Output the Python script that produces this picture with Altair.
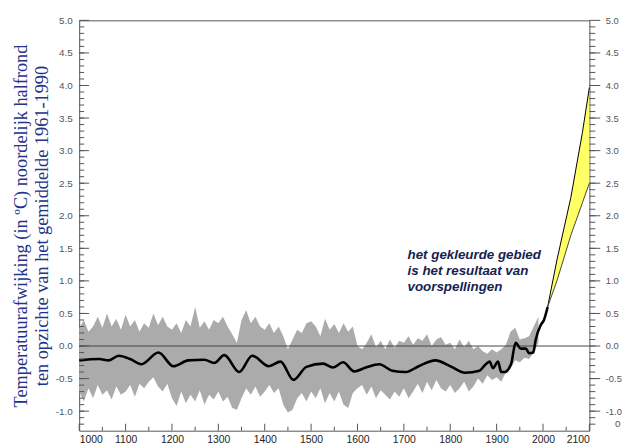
import altair as alt
import pandas as pd

# ---------------- data ----------------
band_years = list(range(1000, 2000, 10))
band_upper = [
    0.27, 0.40, 0.22, 0.30, 0.45, 0.28, 0.50, 0.30, 0.42, 0.25,
    0.48, 0.30, 0.40, 0.22, 0.35, 0.28, 0.50, 0.32, 0.45, 0.30,
    0.25, 0.35, 0.20, 0.40, 0.30, 0.60, 0.28, 0.38, 0.25, 0.40,
    0.35, 0.45, 0.30, 0.18, 0.05, 0.40, 0.55, 0.35, 0.45, 0.30,
    0.25, 0.35, 0.20, 0.30, 0.15, -0.05, 0.10, 0.25, 0.20, 0.35,
    0.38, 0.30, 0.15, 0.42, 0.25, 0.34, 0.20, 0.35, 0.22, 0.30,
    0.00, -0.05, 0.05, 0.18, -0.02, 0.08, -0.05, 0.10, -0.03, 0.08,
    0.05, 0.15, 0.02, 0.12, 0.08, 0.18, 0.00, 0.10, 0.14, 0.02,
    0.05, -0.05, 0.10, -0.02, 0.08, -0.05, 0.00, -0.08, -0.12, -0.05,
    -0.10, -0.05, 0.02, 0.22, 0.28, 0.10, 0.12, 0.15, 0.30, 0.45,
]
band_lower = [
    -0.70, -0.85, -0.65, -0.80, -0.60, -0.75, -0.68, -0.82, -0.62, -0.75,
    -0.70, -0.60, -0.78, -0.58, -0.65, -0.55, -0.48, -0.62, -0.70, -0.58,
    -0.80, -0.92, -0.70, -0.88, -0.75, -0.85, -0.68, -0.90, -0.75, -0.82,
    -0.70, -0.85, -0.78, -0.95, -0.98, -0.80, -0.65, -0.75, -0.62, -0.78,
    -0.70, -0.60, -0.72, -0.65, -0.90, -1.02, -0.98, -0.80, -0.72, -0.85,
    -0.70, -0.80, -0.65, -0.88, -0.72, -0.85, -0.70, -0.90, -0.95, -0.72,
    -0.65, -0.60, -0.75, -0.62, -0.80, -0.68, -0.75, -0.82, -0.70, -0.78,
    -0.65, -0.80, -0.70, -0.58, -0.72, -0.55, -0.68, -0.52, -0.65, -0.70,
    -0.60, -0.72, -0.65, -0.55, -0.70, -0.62, -0.50, -0.58, -0.45, -0.52,
    -0.48, -0.55, -0.40, -0.35, -0.22, -0.25, -0.18, -0.20, -0.10, 0.05,
]

smooth_years = [1000, 1043, 1064, 1085, 1110, 1134, 1171, 1203, 1235, 1270,
                1291, 1313, 1345, 1373, 1409, 1434, 1462, 1490, 1526, 1547,
                1569, 1593, 1618, 1647, 1675, 1704, 1732, 1768, 1803, 1832,
                1863, 1874, 1885, 1892, 1903, 1910, 1917, 1931, 1941, 1952,
                1963, 1970, 1979, 1984, 1995, 2002, 2010]
smooth_values = [-0.22, -0.20, -0.22, -0.15, -0.20, -0.28, -0.10, -0.31, -0.22, -0.21,
                 -0.26, -0.14, -0.40, -0.15, -0.31, -0.24, -0.52, -0.32, -0.27, -0.33,
                 -0.25, -0.39, -0.33, -0.28, -0.38, -0.40, -0.31, -0.22, -0.32, -0.41,
                 -0.38, -0.30, -0.24, -0.34, -0.24, -0.40, -0.40, -0.28, 0.05, -0.04,
                 -0.04, -0.11, -0.10, 0.09, 0.32, 0.40, 0.60]

proj_years = [2010, 2030, 2060, 2085, 2100]
proj_upper = [0.60, 1.32, 2.28, 3.28, 3.97]
proj_lower = [0.60, 1.00, 1.70, 2.20, 2.50]

y_major = [-1.0, -0.5, 0.0, 0.5, 1.0, 1.5, 2.0, 2.5, 3.0, 3.5, 4.0, 4.5, 5.0]
y_minor = [round(-1.2 + 0.1 * i, 1) for i in range(62)]
x_major = list(range(1000, 2101, 100))
x_minor = list(range(1050, 2100, 100))

title_lines = ["Temperatuurafwijking (in ºC) noordelijk halfrond",
               "ten opzichte van het gemiddelde 1961-1990"]
note_lines = ["het gekleurde gebied", "is het resultaat van", "voorspellingen"]

# ---------------- chart ----------------
W, H = 516, 415
xs = alt.Scale(domain=[1000, 2100], nice=False, zero=False)
ys = alt.Scale(domain=[-1.3, 5.0], nice=False, zero=False)
label_expr = "datum.value < 0 ? '-' + format(-datum.value, '.1f') : format(datum.value, '.1f')"

band_df = pd.DataFrame({"year": band_years, "lo": band_lower, "hi": band_upper})
smooth_df = pd.DataFrame({"year": smooth_years, "v": smooth_values})
proj_df = pd.DataFrame({"year": proj_years, "lo": proj_lower, "hi": proj_upper})

band = alt.Chart(band_df).mark_area(color="#ababab", opacity=1).encode(
    x=alt.X("year:Q", scale=xs, axis=alt.Axis(
        values=x_major, format="d", ticks=False, domain=False, grid=False,
        labelPadding=4, labelFont="Liberation Sans", labelFontSize=10.5,
        labelColor="#222", title=None)),
    y=alt.Y("lo:Q", scale=ys, axis=alt.Axis(
        values=y_major, labelExpr=label_expr, ticks=False, domain=False, grid=False,
        labelPadding=7, labelFont="Liberation Sans", labelFontSize=10,
        labelColor="#555", title=title_lines, titleFont="Liberation Serif",
        titleFontSize=18.5, titleFontWeight="normal", titleColor="#22338a",
        titleLineHeight=21, titlePadding=4)),
    y2="hi:Q",
)

right_axis = alt.Chart(pd.DataFrame({"v": [0.0]})).mark_rule(color="#444", strokeWidth=1).encode(
    y=alt.Y("v:Q", scale=ys, axis=alt.Axis(
        orient="right", values=y_major, labelExpr=label_expr, ticks=False,
        domain=False, grid=False, labelPadding=16, labelFont="Liberation Sans",
        labelFontSize=9.5, labelColor="#555", title=None)),
    x=alt.value(0), x2=alt.value(W),
)

smooth = alt.Chart(smooth_df).mark_line(color="black", strokeWidth=2.6, interpolate="monotone").encode(
    x=alt.X("year:Q", scale=xs, axis=None),
    y=alt.Y("v:Q", scale=ys, axis=None),
)

proj_area = alt.Chart(proj_df).mark_area(color="#ffff66", opacity=1).encode(
    x=alt.X("year:Q", scale=xs, axis=None),
    y=alt.Y("lo:Q", scale=ys, axis=None),
    y2="hi:Q",
)
proj_hi = alt.Chart(proj_df).mark_line(color="black", strokeWidth=1).encode(
    x=alt.X("year:Q", scale=xs, axis=None),
    y=alt.Y("hi:Q", scale=ys, axis=None),
)
proj_lo = alt.Chart(proj_df).mark_line(color="#444", strokeWidth=1).encode(
    x=alt.X("year:Q", scale=xs, axis=None),
    y=alt.Y("lo:Q", scale=ys, axis=None),
)

def yticks(values, x0, x1):
    return alt.Chart(pd.DataFrame({"v": values})).mark_rule(color="#555", strokeWidth=1).encode(
        y=alt.Y("v:Q", scale=ys, axis=None), x=alt.value(x0), x2=alt.value(x1))

def xticks(values, length):
    return alt.Chart(pd.DataFrame({"t": values})).mark_rule(color="#555", strokeWidth=1).encode(
        x=alt.X("t:Q", scale=xs, axis=None), y=alt.value(H), y2=alt.value(H - length))

note = alt.Chart(pd.DataFrame({"year": [1708], "v": [1.5]})).mark_text(
    align="left", baseline="top", font="Liberation Sans", fontStyle="italic",
    fontWeight="bold", fontSize=13.5, lineHeight=16, color="#15224f", text=note_lines,
).encode(x=alt.X("year:Q", scale=xs, axis=None), y=alt.Y("v:Q", scale=ys, axis=None))

stray = alt.Chart(pd.DataFrame({"s": ["0"]})).mark_text(
    align="left", baseline="middle", font="Liberation Sans", fontSize=10, color="#555"
).encode(text="s:N", x=alt.value(W + 26), y=alt.value(H - 7))

chart = alt.layer(
    band, right_axis, smooth, proj_area, proj_hi, proj_lo,
    yticks(y_major, 0, 10), yticks(y_minor, 0, 5),
    yticks(y_major, W, W + 11), yticks(y_minor, W, W + 6),
    xticks(x_major, 7), xticks(x_minor, 4),
    note, stray,
).resolve_axis(x="independent", y="independent").properties(
    width=W, height=H,
    padding={"left": 72, "top": 10, "right": 34, "bottom": 15},
    autosize=alt.AutoSizeParams(type="none"),
).configure_view(stroke="#555", strokeWidth=1)

chart.save("out.html", embed_options={"renderer": "svg", "actions": False})
